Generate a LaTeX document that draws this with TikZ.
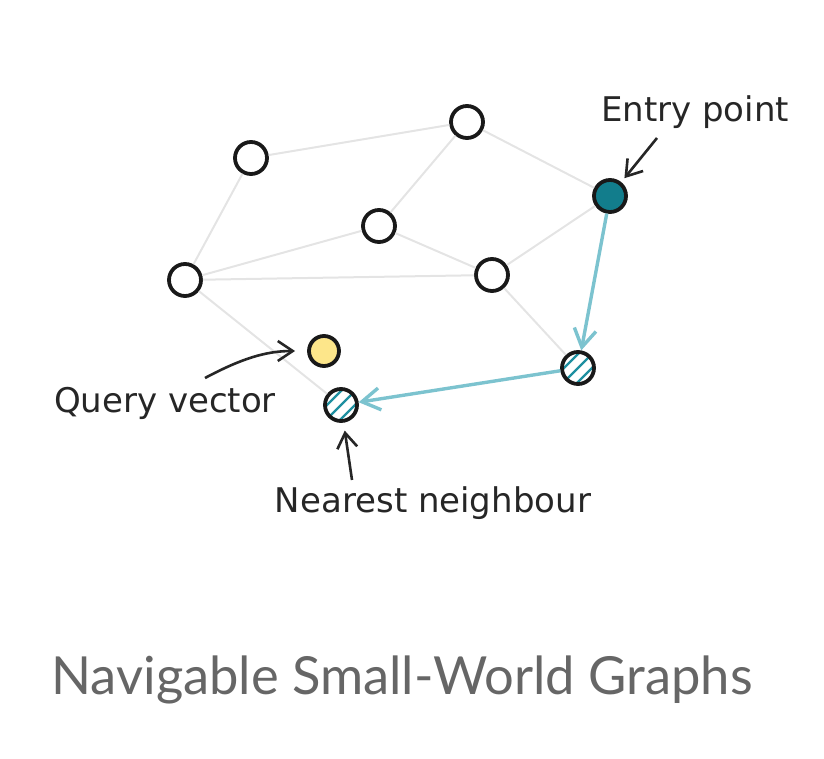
\documentclass[tikz,border=0pt]{standalone}
\usepackage{fontspec}
\setmainfont{Lato}
\newfontfamily\handfont{DejaVu Sans}
\usepackage{tikz}
\usetikzlibrary{arrows.meta, positioning}

\definecolor{edgegray}{HTML}{E4E4E4}
\definecolor{entryteal}{HTML}{127D8C}
\definecolor{walkteal}{HTML}{7CC3CF}
\definecolor{hatchteal}{HTML}{1E8FA0}
\definecolor{queryyellow}{HTML}{FDE68A}
\definecolor{titlegray}{HTML}{666666}

\begin{document}
\begin{tikzpicture}[x=1pt, y=1pt,
    vertex/.style={draw=black!90, circle, line width=3.8pt, minimum size=32pt, inner sep=0pt, fill=white},
    hatched/.style={vertex, path picture={
        \foreach \d in {-14,0,14}
          \draw[hatchteal, line width=2.2pt]
            ([xshift=\d pt]path picture bounding box.south west) --
            ([xshift=\d pt]path picture bounding box.north east);}},
    link/.style={draw=edgegray, line width=2pt},
    walk/.style={draw=walkteal, line width=3.4pt, -{Straight Barb[length=18pt, width=22pt, line width=3.4pt]}},
    pointer/.style={draw=black!85, line width=2.6pt, -{Straight Barb[length=15pt, width=20pt, line width=2.6pt]}},
    note/.style={font=\handfont\fontsize{34}{40}\selectfont, text=black!85}]
  \useasboundingbox (0,0) rectangle (824,758);

  % graph vertices
  \node[vertex] (a) at (251, 600) {};
  \node[vertex] (b) at (467, 636) {};
  \node[vertex] (c) at (379, 532) {};
  \node[vertex] (d) at (185, 478) {};
  \node[vertex] (e) at (492, 483) {};
  \node[vertex, fill=entryteal] (entry) at (610, 562) {};
  \node[hatched] (hop) at (578, 390) {};
  \node[vertex, fill=queryyellow, minimum size=30pt] (query) at (324, 407) {};
  \node[hatched] (nearest) at (341, 353) {};

  % links
  \draw[link] (a) -- (b);
  \draw[link] (a) -- (d);
  \draw[link] (b) -- (c);
  \draw[link] (b) -- (entry);
  \draw[link] (c) -- (d);
  \draw[link] (c) -- (e);
  \draw[link] (d) -- (e);
  \draw[link] (e) -- (entry);
  \draw[link] (e) -- (hop);
  \draw[link] (d) -- (nearest);

  % search path
  \draw[walk] (entry) -- (hop);
  \draw[walk] (hop) -- (nearest);

  % labels
  \node[note] (entrylbl) at (695, 646) {Entry point};
  \node[note] (querylbl) at (165, 355) {Query vector};
  \node[note] (nearlbl) at (433, 255) {Nearest neighbour};

  \coordinate (entrytail) at (657, 620);
  \coordinate (querytail) at (205, 380);
  \coordinate (neartail) at (352, 278);
  \draw[pointer, shorten >=5pt] (entrytail) -- (entry);
  \draw[pointer, shorten >=12pt] (querytail) to[out=28, in=180] (query.west);
  \draw[pointer, shorten >=8pt] (neartail) -- (nearest);

  % title
  \node[text=titlegray, font=\fontsize{52.5}{62}\selectfont] (title) at (402, 78) {Navigable Small-World Graphs};
\end{tikzpicture}
\end{document}
